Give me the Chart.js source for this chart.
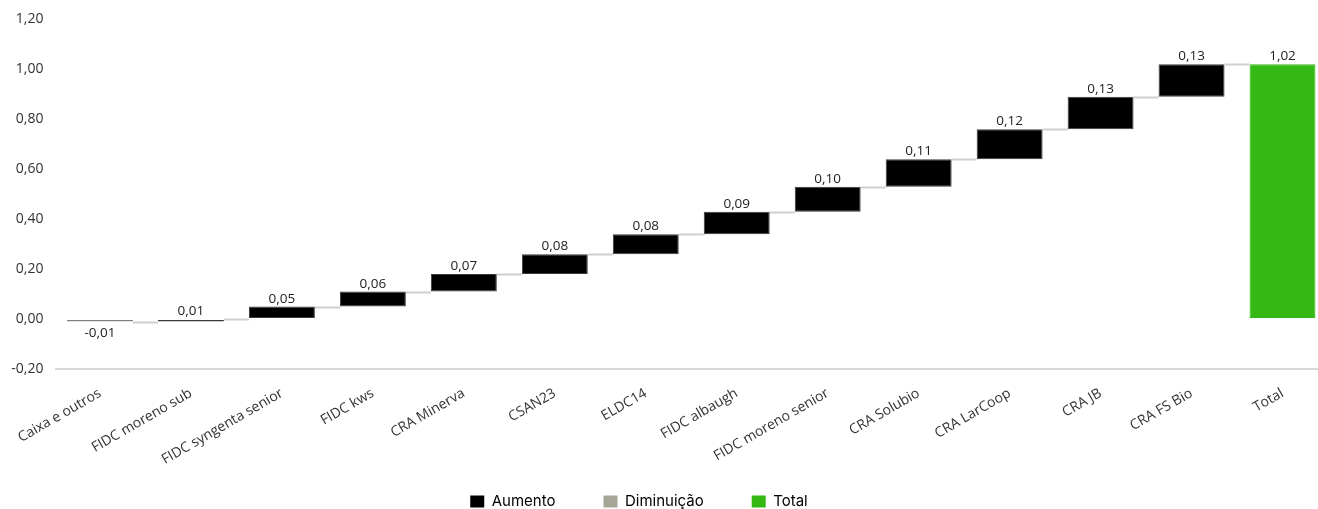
<!DOCTYPE html>
<html>
<head>
<meta charset="utf-8">
<script src="https://cdn.jsdelivr.net/npm/chart.js@4"></script>
<style>
  html, body { margin: 0; padding: 0; background: #fff; overflow: hidden; }
  #wrap { position: relative; width: 1328px; height: 509px; }
</style>
</head>
<body>
<div id="wrap"><canvas id="canvas"></canvas></div>
<script>
const categories = ["Caixa e outros", "FIDC moreno sub", "FIDC syngenta senior", "FIDC kws", "CRA Minerva", "CSAN23", "ELDC14", "FIDC albaugh", "FIDC moreno senior", "CRA Solubio", "CRA LarCoop", "CRA JB", "CRA FS Bio", "Total"];
const deltas = [-0.01, 0.01, 0.05, 0.06, 0.07, 0.08, 0.08, 0.09, 0.10, 0.11, 0.12, 0.13, 0.13];
const total = 1.02;
const yTicks = [-0.2, 0, 0.2, 0.4, 0.6, 0.8, 1.0, 1.2];
const legendNames = ["Aumento", "Diminuição", "Total"];

const colUp = "#000000";
const colDown = "#808080";
const colTotal = "#33b814";
const legendColors = ["#000000", "#a6a697", "#33b814"];

const fmt = (v) => v.toFixed(2).replace(".", ",");

// floating bars built from the deltas
const ranges = [];
const levels = [];
let run = 0;
deltas.forEach((d) => {
  ranges.push([run, run + d]);
  run = Math.round((run + d) * 100) / 100;
  levels.push(run);
});
ranges.push([0, total]);
levels.push(total);
const shown = deltas.concat([total]);
const colors = shown.map((d, i) => i === shown.length - 1 ? colTotal : (d < 0 ? colDown : colUp));

const waterfallPlugin = {
  id: "waterfall",
  afterLayout(chart) {
    // legend sits a bit left of centre in the original
    chart.legend.left -= 27;
    chart.legend.right -= 27;
    // let the rotated labels run down past the axis box
    chart.scales.x.bottom = chart.height;
  },
  afterDatasetsDraw(chart) {
    const ctx = chart.ctx;
    const meta = chart.getDatasetMeta(0);
    const y = chart.scales.y;
    ctx.save();
    // connectors
    ctx.strokeStyle = "#cfcfcf";
    ctx.lineWidth = 2;
    for (let i = 0; i < meta.data.length - 1; i++) {
      const a = meta.data[i], b = meta.data[i + 1];
      const py = Math.round(y.getPixelForValue(levels[i])) + 0.5;
      ctx.beginPath();
      ctx.moveTo(a.x + a.width / 2, py);
      ctx.lineTo(b.x - b.width / 2, py);
      ctx.stroke();
    }
    // value labels
    ctx.fillStyle = "#222";
    ctx.font = "13.5px 'Open Sans'";
    ctx.textAlign = "center";
    meta.data.forEach((bar, i) => {
      const v = shown[i];
      const top = y.getPixelForValue(Math.max(...ranges[i]));
      const bot = y.getPixelForValue(Math.min(...ranges[i]));
      if (v < 0) {
        ctx.textBaseline = "top";
        ctx.fillText(fmt(v), bar.x, bot + 5);
      } else {
        ctx.textBaseline = "bottom";
        ctx.fillText(fmt(v), bar.x, top - 1);
      }
    });
    ctx.restore();
  }
};

new Chart(document.getElementById("canvas"), {
  type: "bar",
  data: {
    labels: categories,
    datasets: [{
      data: ranges,
      backgroundColor: colors,
      borderColor: colors.map((c) => c === colUp ? "#3a3a3a" : c),
      borderWidth: 1,
      borderSkipped: false,
      barPercentage: 0.725,
      categoryPercentage: 1
    }]
  },
  options: {
    responsive: true,
    maintainAspectRatio: false,
    animation: false,
    layout: { padding: { left: 4, right: 0, top: 15, bottom: -10 } },
    plugins: {
      tooltip: { enabled: false },
      legend: {
        position: "bottom",
        labels: {
          font: { family: "Inter", size: 15 },
          color: "#222",
          boxWidth: 14,
          boxHeight: 12,
          padding: 48,
          generateLabels: () => legendNames.map((n, i) => ({
            text: n,
            fillStyle: legendColors[i],
            strokeStyle: legendColors[i],
            lineWidth: 0,
            hidden: false,
            datasetIndex: 0
          }))
        }
      }
    },
    scales: {
      x: {
        grid: { display: false, drawTicks: false },
        border: { display: false },
        afterFit: (scale) => { scale.height = 77; },
        ticks: {
          font: { family: "Open Sans", size: 14 },
          color: "#333",
          minRotation: 30,
          maxRotation: 30,
          padding: 16
        }
      },
      y: {
        min: -0.2,
        max: 1.2,
        afterFit: (scale) => { scale.width = 50.5; },
        afterBuildTicks: (axis) => { axis.ticks = yTicks.map((v) => ({ value: v })); },
        grid: {
          drawTicks: false,
          color: (c) => c.tick && c.tick.value === -0.2 ? "#d9d9d9" : "rgba(0,0,0,0)",
          lineWidth: 2
        },
        border: { display: false },
        ticks: {
          font: { family: "Open Sans", size: 14 },
          color: "#333",
          padding: 11,
          callback: (v) => fmt(v)
        }
      }
    }
  },
  plugins: [waterfallPlugin]
});
</script>
</body>
</html>
